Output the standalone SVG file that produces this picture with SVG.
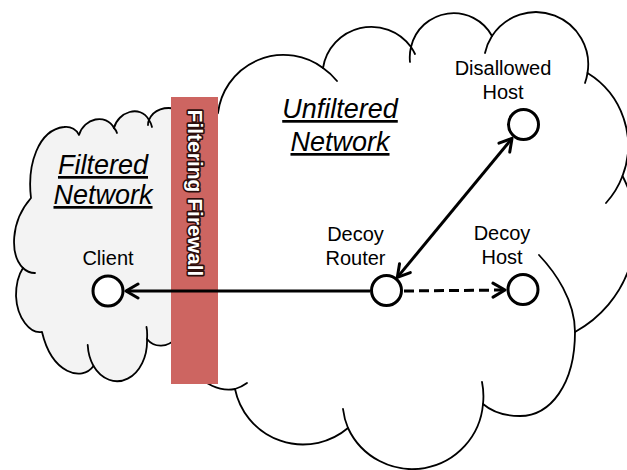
<svg xmlns="http://www.w3.org/2000/svg" width="627" height="470" viewBox="0 0 627 470">
<style>
.cloud{stroke:#000;stroke-width:1.8;stroke-linejoin:round}
.stub{fill:none;stroke:#000;stroke-width:1.8;stroke-linecap:round}
.node{fill:#fff;stroke:#000;stroke-width:3}
.lbl{font-family:"Liberation Sans",Arial,sans-serif;font-size:20px;text-anchor:middle;fill:#000}
.net{font-family:"Liberation Sans",Arial,sans-serif;font-size:27px;font-style:italic;text-decoration:underline;text-anchor:middle;fill:#000}
.conn{fill:none;stroke:#000;stroke-width:3}
.fw{font-family:"Liberation Sans",Arial,sans-serif;font-size:21px;font-weight:bold;text-anchor:middle;fill:#fff;stroke:#2b0d0b;stroke-width:3.2;paint-order:stroke;stroke-linejoin:round}
</style>
<defs>
<marker id="ah" viewBox="-15 -9 18 18" refX="0" refY="0" markerWidth="18" markerHeight="18" orient="auto-start-reverse" markerUnits="userSpaceOnUse">
<path d="M-12,-7 L0,0 L-12,7" fill="none" stroke="#000" stroke-width="3" stroke-linejoin="round" stroke-linecap="round"/>
</marker>
</defs>
<g id="unfiltered-network">
<path class="cloud" fill="#fff" d="M218 113 A66 66 0 0 1 323 68 A49 49 0 0 1 411 47 A43.7 43.7 0 0 1 492 36 A52.3 52.3 0 0 1 587.5 73 A85.1 85.1 0 0 1 622.5 176 A116.3 116.3 0 0 1 575 332 C575 385 550 416 520 416 C503 416 490 410 483 404 A70.9 70.9 0 0 1 348 428 A69.5 69.5 0 0 1 235 389 A39 39 0 0 1 195 370 L200 130 Z"/>
<path class="stub" d="M323 68 A66 66 0 0 1 337 81 M411 47 A49 49 0 0 1 415 54 M411 47 A43.7 43.7 0 0 0 410 62 M492 36 A52.3 52.3 0 0 0 485 53 M587.5 73 A52.3 52.3 0 0 1 585 83 M622.5 176 A85.1 85.1 0 0 1 606 203 M539 255 C555 272 575 300 575 332 M483 404 A70.9 70.9 0 0 0 482 382 M348 428 A70.9 70.9 0 0 1 343 409 M235 389 A39 39 0 0 0 247 383"/>
<text class="net" x="340" y="118">Unfiltered</text>
<text class="net" x="340" y="151">Network</text>
</g>
<g id="filtered-network">
<path class="cloud" fill="#f3f3f3" d="M31 198 C27 165 38 130 64 127 C71 126 77 130 79 135 C84 118 106 113 114 128 C118 112 140 104 149 120 C153 110 165 105 180 110 L196 116 L196 334 L176 338 C168 348 154 348 147 339 A30 40 0 0 1 93.5 366 C82 382 52 374 42 332 C30 334 17 318 16 296 C16 284 19 274 23 268 C10 255 10 222 31 198 Z"/>
<path class="stub" d="M93.5 366 A30 40 0 0 1 87.7 345 M147 339 Q147.5 332 146.5 327 M23 268 C26 271 31 273 35 273 M114 128 Q116 130 117 133 M149 120 Q151 123 152 127 M149 120 Q148 122 148 125"/>
<text class="net" x="103" y="174">Filtered</text>
<text class="net" x="103" y="204">Network</text>
</g>
<g id="firewall">
<rect x="171" y="97" width="47" height="287" fill="#cd6561"/>
<text class="fw" transform="translate(188 193) rotate(90)">Filtering Firewall</text>
</g>
<g id="connectors">
<path class="conn" d="M370 291 L126 291" marker-end="url(#ah)"/>
<path class="conn" d="M397.3 277.4 L512 138.4" marker-start="url(#ah)" marker-end="url(#ah)"/>
<path class="conn" d="M404 291 L505 290" stroke-dasharray="10 5" marker-end="url(#ah)"/>
</g>
<g id="client">
<circle class="node" cx="108" cy="291" r="15"/>
<text class="lbl" x="108" y="265">Client</text>
</g>
<g id="decoy-router">
<circle class="node" cx="386.5" cy="290.5" r="15"/>
<text class="lbl" x="355.5" y="241">Decoy</text>
<text class="lbl" x="355.5" y="265">Router</text>
</g>
<g id="disallowed-host">
<circle class="node" cx="523.5" cy="124.5" r="15"/>
<text class="lbl" x="503" y="75">Disallowed</text>
<text class="lbl" x="503" y="99">Host</text>
</g>
<g id="decoy-host">
<circle class="node" cx="523" cy="289.5" r="15"/>
<text class="lbl" x="502" y="240">Decoy</text>
<text class="lbl" x="502" y="264">Host</text>
</g>
</svg>
